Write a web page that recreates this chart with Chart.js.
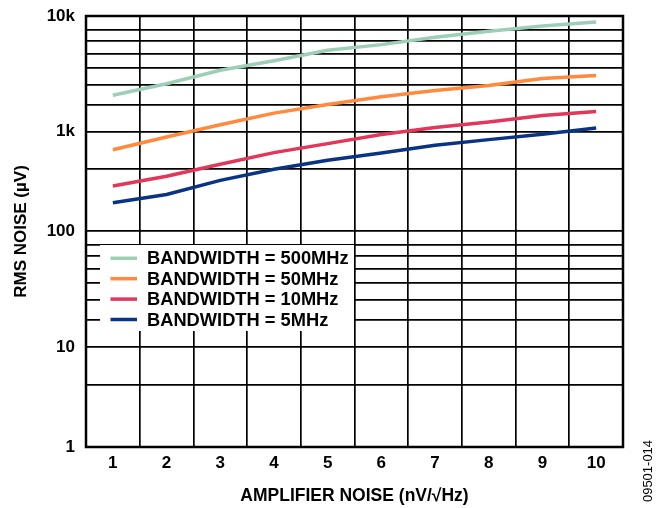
<!DOCTYPE html>
<html>
<head>
<meta charset="utf-8">
<script src="https://cdn.jsdelivr.net/npm/chart.js@4/dist/chart.umd.min.js"></script>
<style>
  body { margin: 0; background: #fff; }
  canvas { display: block; }
</style>
</head>
<body>
<canvas id="chart" width="657" height="508"></canvas>
<script>
// amplifier noise, nV/rtHz
const noise = [1, 2, 3, 4, 5, 6, 7, 8, 9, 10];

// rms noise in uV
const bw500 = [2070, 2600, 3400, 4100, 5060, 5660, 6550, 7380, 8200, 8870];
const bw50 = [660, 886, 1150, 1450, 1720, 2010, 2270, 2510, 2880, 3060];
const bw10 = [284, 356, 470, 617, 760, 938, 1090, 1215, 1380, 1500];
const bw5 = [193, 233, 324, 419, 516, 611, 731, 834, 944, 1078];

const seriesNames = ['BANDWIDTH = 500MHz', 'BANDWIDTH = 50MHz', 'BANDWIDTH = 10MHz', 'BANDWIDTH = 5MHz'];

const yTickValues = [1, 10, 100, 1000, 10000];
const yTickLabels = ['1', '10', '100', '1k', '10k'];
// extra grid lines, as they sit in the original figure
const yGridValues = [4.2, 17, 25.5, 35.5, 47, 61.5, 76.5, 420, 1700, 2520, 3580, 4730, 6050, 7520];

// the original figure does not draw its decades the same height
const decadeHeights = [100, 116, 99.2, 115.8];
const decadeTotal = decadeHeights.reduce((a, b) => a + b, 0);

class DecadeScale extends Chart.LogarithmicScale {
    static id = 'decadeLog';
    static defaults = Chart.LogarithmicScale.defaults;

    getPixelForValue(value) {
        if (!(value > 0)) value = this.min;
        const lg = Math.log10(value);
        const d = Math.max(0, Math.min(decadeHeights.length - 1, Math.floor(lg)));
        let pos = 0;
        for (let i = 0; i < d; i++) pos += decadeHeights[i];
        pos += (lg - d) * decadeHeights[d];
        return this.getPixelForDecimal(pos / decadeTotal);
    }

    getValueForPixel(pixel) {
        let pos = this.getDecimalForPixel(pixel) * decadeTotal;
        let d = 0;
        while (d < decadeHeights.length - 1 && pos > decadeHeights[d]) {
            pos -= decadeHeights[d];
            d++;
        }
        return Math.pow(10, d + pos / decadeHeights[d]);
    }
}
Chart.register(DecadeScale);

const font = 'Liberation Sans, Arial, sans-serif';

const legendBox = {
    id: 'legendBox',
    afterDatasetsDraw(chart) {
        const ctx = chart.ctx;
        ctx.save();
        ctx.fillStyle = '#fff';
        ctx.fillRect(100, 245, 254, 86);
        ctx.font = 'bold 18.3px ' + font;
        ctx.textBaseline = 'middle';
        chart.data.datasets.forEach((ds, i) => {
            const y = 258.3 + i * 20.4;
            ctx.strokeStyle = ds.borderColor;
            ctx.lineWidth = 3.5;
            ctx.beginPath();
            ctx.moveTo(110.5, y);
            ctx.lineTo(137, y);
            ctx.stroke();
            ctx.fillStyle = '#000';
            ctx.fillText(ds.label, 147, y + 1);
        });
        ctx.restore();
    }
};

const frame = {
    id: 'frame',
    afterDraw(chart) {
        const a = chart.chartArea;
        const ctx = chart.ctx;
        ctx.save();
        ctx.strokeStyle = '#000';
        ctx.lineWidth = 2.5;
        ctx.strokeRect(a.left, a.top, a.right - a.left, a.bottom - a.top);
        // figure number on the right
        ctx.translate(648, 471);
        ctx.rotate(-Math.PI / 2);
        ctx.font = '13px ' + font;
        ctx.fillStyle = '#000';
        ctx.textAlign = 'center';
        ctx.textBaseline = 'middle';
        ctx.fillText('09501-014', 0, 0);
        ctx.restore();
    }
};

const colors = ['#9dcfb6', '#ff8a3d', '#e2365b', '#0b3383'];

new Chart(document.getElementById('chart'), {
    type: 'line',
    data: {
        labels: noise,
        datasets: [bw500, bw50, bw10, bw5].map((d, i) => ({
            label: seriesNames[i],
            data: d,
            borderColor: colors[i],
            borderWidth: 3.5,
            pointRadius: 0,
            tension: 0,
            fill: false
        }))
    },
    options: {
        responsive: false,
        animation: false,
        layout: { padding: { top: 16, right: 34, bottom: 0, left: 0 } },
        plugins: {
            legend: { display: false },
            tooltip: { enabled: false }
        },
        scales: {
            x: {
                type: 'category',
                offset: true,
                grid: { offset: true, color: '#000', lineWidth: 1.7, drawTicks: false },
                border: { display: false },
                ticks: { color: '#000', padding: 6, font: { family: font, size: 17, weight: 'bold' } },
                title: {
                    display: true,
                    text: 'AMPLIFIER NOISE (nV/\u221AHz)',
                    color: '#000',
                    font: { family: font, size: 17.5, weight: 'bold' },
                    padding: { top: 0, bottom: 1 }
                },
                afterFit: s => { s.height = 61; }
            },
            y: {
                type: 'decadeLog',
                min: 1,
                max: 10000,
                grid: { color: '#000', lineWidth: 1.7, drawTicks: false },
                border: { display: false },
                afterBuildTicks: s => {
                    s.ticks = yTickValues.concat(yGridValues).sort((a, b) => a - b).map(v => ({ value: v }));
                },
                ticks: {
                    autoSkip: false,
                    color: '#000',
                    padding: 11,
                    font: { family: font, size: 17, weight: 'bold' },
                    callback: v => {
                        const i = yTickValues.indexOf(v);
                        return i >= 0 ? yTickLabels[i] : '';
                    }
                },
                title: {
                    display: true,
                    text: 'RMS NOISE (\u00B5V)',
                    color: '#000',
                    font: { family: font, size: 17, weight: 'bold' },
                    padding: { top: 11.5, bottom: 0 }
                },
                afterFit: s => {
                    s.width = 86;
                    s.paddingTop = 10;
                    s.paddingBottom = 10;
                }
            }
        }
    },
    plugins: [legendBox, frame]
});
</script>
</body>
</html>
